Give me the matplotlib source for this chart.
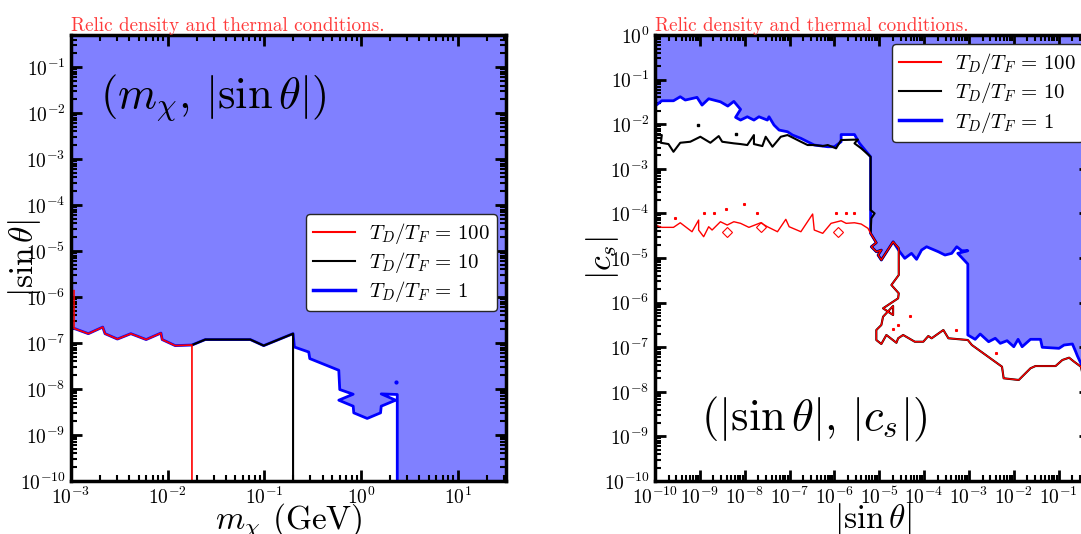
import matplotlib
matplotlib.use('Agg')
import matplotlib.pyplot as plt
import numpy as np
from matplotlib.ticker import LogLocator, NullFormatter

plt.rcParams['font.family'] = 'serif'
plt.rcParams['font.serif'] = ['cmr10']
plt.rcParams['mathtext.fontset'] = 'cm'
plt.rcParams['axes.unicode_minus'] = False
plt.rcParams['axes.formatter.use_mathtext'] = True

# ---- left panel: (m_chi, |sin theta|), values stored as log10 ----
mchi_log = [-3.0, -2.969, -2.821, -2.672, -2.648, -2.520, -2.381, -2.223, -2.070, -2.057,
            -1.922, -1.749, -1.611, -1.145, -1.007, -0.703, -0.689, -0.541, -0.530, -0.230,
            -0.220, -0.081, -0.230, -0.081, -0.075, 0.064, 0.202, 0.209, 0.358, 0.209,
            0.375, 0.375]
sin_left_log = [-6.681, -6.681, -6.796, -6.653, -6.796, -6.913, -6.796, -6.924, -6.783, -6.924,
                -7.056, -7.043, -6.924, -6.924, -7.056, -6.796, -7.087, -7.195, -7.338, -7.592,
                -8.011, -8.113, -8.243, -8.373, -8.518, -8.640, -8.518, -8.373, -8.243, -8.106,
                -8.119, -10.0]
red_left_top = -5.86       # short red segment at the left edge
red_cut_log = -1.749       # T_D/T_F = 100 ends here
black_cut_log = -0.703     # T_D/T_F = 10 ends here
blue_dot_left = (0.365, -7.852)

# ---- right panel: (|sin theta|, |c_s|), log10 ----
blue_top_x = [-10.0, -9.850, -9.590, -9.439, -9.327, -9.065, -8.953, -8.805, -8.543, -8.379,
              -8.244, -8.094, -8.206, -8.094, -7.944, -7.796, -7.684, -7.496, -7.460, -7.348,
              -7.235, -7.047, -6.935, -6.749, -6.599, -6.451, -6.150, -6.002, -5.852, -5.852,
              -5.554, -5.442, -5.195]
blue_top_y = [-1.592, -1.473, -1.473, -1.383, -1.457, -1.397, -1.570, -1.428, -1.496, -1.592,
              -1.487, -1.666, -1.845, -1.906, -1.832, -1.906, -1.832, -1.906, -1.832, -2.018,
              -2.130, -2.168, -2.242, -2.316, -2.392, -2.466, -2.504, -2.504, -2.392, -2.231,
              -2.231, -2.428, -2.729]
wiggle_x = [-5.195, -5.067, -5.179, -5.067, -4.955, -5.029, -4.955, -4.693]
wiggle_y = [-4.446, -4.657, -4.747, -4.859, -4.821, -4.933, -5.045, -4.635]
blue_rest_x = [-4.545, -4.433, -4.283, -4.170, -4.058, -3.946, -3.684, -3.536, -3.386, -3.274,
               -3.161, -3.027, -3.251, -3.027, -3.027, -2.863, -2.751, -2.563, -2.415, -2.303,
               -2.152, -2.002, -1.906, -1.816, -1.630, -1.406, -1.368, -0.993, -0.881, -0.695,
               -0.621, -0.583, -0.471, -0.247]
blue_rest_y = [-4.859, -5.007, -4.895, -5.029, -4.821, -4.747, -4.859, -4.933, -4.895, -4.747,
               -4.836, -4.836, -4.895, -5.135, -6.726, -6.823, -6.704, -6.877, -6.800, -6.913,
               -6.854, -6.989, -6.823, -6.989, -6.823, -6.823, -7.002, -7.025, -6.951, -6.928,
               -7.101, -7.197, -7.437, -7.735]
black_top_x = [-10.0, -9.850, -9.872, -9.702, -9.590, -9.439, -9.215, -8.991, -8.767, -8.581,
               -8.504, -8.244, -8.094, -7.944, -7.796, -7.796, -7.608, -7.534, -7.383, -7.197,
               -7.047, -6.899, -6.749, -6.599, -6.451, -6.262, -6.150, -5.964, -5.852, -5.478,
               -5.554, -5.404, -5.195, -5.195, -5.105, -5.179]
black_top_y = [-2.242, -2.242, -2.415, -2.444, -2.617, -2.415, -2.392, -2.280, -2.415, -2.265,
               -2.392, -2.428, -2.444, -2.466, -2.242, -2.444, -2.489, -2.280, -2.504, -2.280,
               -2.242, -2.316, -2.392, -2.466, -2.466, -2.489, -2.466, -2.540, -2.354, -2.343,
               -2.428, -2.540, -2.729, -3.924, -3.998, -4.110]
red_top_x = [-10.0, -9.850, -9.590, -9.439, -9.177, -9.029, -9.029, -8.917, -8.805, -8.729,
             -8.543, -8.392, -8.244, -8.094, -7.908, -7.646, -7.496, -7.271, -7.085, -7.011,
             -6.749, -6.487, -6.451, -6.262, -6.076, -5.852, -5.740, -5.554, -5.404, -5.253]
red_top_y = [-4.260, -4.312, -4.312, -4.209, -4.410, -4.148, -4.372, -4.522, -4.298, -4.372,
             -4.186, -4.260, -4.186, -4.222, -4.312, -4.209, -4.298, -4.410, -4.132, -4.298,
             -4.410, -4.013, -4.372, -4.446, -4.222, -4.164, -4.222, -4.209, -4.238, -4.334]
lower_x = [-4.567, -4.567, -4.731, -4.567, -4.581, -4.917, -4.693, -4.693, -4.917, -4.955,
           -5.067, -5.067, -4.955, -4.843, -4.619, -4.581, -4.469, -4.209, -4.020, -3.908,
           -3.834, -3.572, -3.460, -3.027, -2.937, -2.265, -2.228, -1.891, -1.630, -1.518,
           -1.070, -0.919, -0.769, -0.657, -0.507, -0.455, -0.247]
lower_y = [-4.780, -5.381, -5.605, -5.791, -5.904, -6.128, -6.278, -6.076, -6.316, -6.502,
           -6.614, -6.839, -6.928, -6.726, -6.901, -6.800, -6.726, -6.877, -6.877, -6.749,
           -6.800, -6.614, -6.800, -6.839, -6.951, -7.437, -7.697, -7.735, -7.473, -7.422,
           -7.422, -7.287, -7.235, -7.325, -7.437, -7.661, -7.850]
red_loop_x = [-8.392, -7.646, -5.926]
red_loop_y = [-4.410, -4.312, -4.410]
red_dot_x = [-9.567, -8.917, -8.693, -8.408, -8.020, -7.720, -5.964, -5.740, -5.554,
             -4.321, -4.581, -4.693, -3.290, -2.399]
red_dot_y = [-4.110, -3.998, -3.998, -3.908, -3.789, -3.998, -3.998, -3.998, -3.998,
             -6.300, -6.502, -6.599, -6.614, -7.137]
black_dot_x = [-9.052, -8.206]
black_dot_y = [-2.018, -2.226]

labels = [r'$T_D/T_F\,=\,100$', r'$T_D/T_F\,=\,10$', r'$T_D/T_F\,=\,1$']
fill_color = '#8080ff'


def p(v):
    return 10.0 ** np.asarray(v, dtype=float)


def style_axes(ax):
    ax.set_xscale('log')
    ax.set_yscale('log')
    for a in (ax.xaxis, ax.yaxis):
        a.set_major_locator(LogLocator(base=10, numticks=100))
        a.set_minor_locator(LogLocator(base=10, subs=np.arange(2, 10), numticks=100))
        a.set_minor_formatter(NullFormatter())
    ax.tick_params(which='both', direction='in', top=True, right=True, labelsize=14, pad=4)
    ax.tick_params(which='major', length=8, width=2)
    ax.tick_params(which='minor', length=4, width=1.5)
    for s in ax.spines.values():
        s.set_linewidth(2.5)
    ax.set_title('Relic density and thermal conditions.', loc='left', color='#ff3a3a',
                 fontsize=13.8, pad=3)


def make_legend(ax, **kw):
    h = [plt.Line2D([], [], color='red', lw=1.5), plt.Line2D([], [], color='black', lw=1.5),
         plt.Line2D([], [], color='blue', lw=2.5)]
    leg = ax.legend(h, labels, fontsize=15, framealpha=1, edgecolor='0.15',
                    handlelength=2.0, handletextpad=0.7, labelspacing=0.2, borderpad=0.35,
                    **kw)
    leg.get_frame().set_linewidth(1.0)
    return leg


fig = plt.figure(figsize=(10.81, 5.34), dpi=100)
ax1 = fig.add_axes([0.0657, 0.0993, 0.4024, 0.835])
ax2 = fig.add_axes([0.606, 0.0993, 0.4024, 0.835])

# left panel
xmin1, xmax1, ymin1, ymax1 = -3.0, 1.5, -10.0, np.log10(0.5)
ax1.fill(p(mchi_log + [xmax1, xmax1, xmin1]), p(sin_left_log + [ymin1, ymax1, ymax1]),
         color=fill_color, lw=0)
ax1.plot(p(mchi_log), p(sin_left_log), color='blue', lw=2)
ax1.plot(p(blue_dot_left[0]), p(blue_dot_left[1]), 'o', color='blue', ms=2)
nb = mchi_log.index(black_cut_log) + 1
nr = mchi_log.index(red_cut_log) + 1
ax1.plot(p(mchi_log[nr - 1:nb] + [black_cut_log]), p(sin_left_log[nr - 1:nb] + [ymin1]),
         color='black', lw=1.5)
ax1.plot(p([mchi_log[1]] + mchi_log[1:nr] + [red_cut_log]),
         p([red_left_top] + sin_left_log[1:nr] + [ymin1]), color='red', lw=1.2)
ax1.set_xlim(p(xmin1), p(xmax1))
ax1.set_ylim(p(ymin1), p(ymax1))
style_axes(ax1)
ax1.set_xlabel(r'$m_\chi$ (GeV)', fontsize=24, labelpad=-5)
ax1.set_ylabel(r'$|\sin\theta|$', fontsize=24)
ax1.yaxis.set_label_coords(-0.065, 0.5)
ax1.text(0.067, 0.86, r'$(m_\chi,\, |\sin\theta|)$', transform=ax1.transAxes,
         fontsize=32, va='center', ha='left')
make_legend(ax1, loc='center right', bbox_to_anchor=(0.98, 0.49), borderaxespad=0)

# right panel
xmin2, xmax2, ymin2, ymax2 = -10.0, np.log10(0.5), -10.0, 0.0
bx = blue_top_x + wiggle_x + blue_rest_x
by = blue_top_y + wiggle_y + blue_rest_y
ax2.fill(p(bx + [bx[-1], xmin2]), p(by + [ymax2, ymax2]), color=fill_color, lw=0)
ax2.plot(p(bx), p(by), color='blue', lw=2)
ax2.plot(p(black_top_x + wiggle_x + lower_x), p(black_top_y + wiggle_y + lower_y),
         color='black', lw=1.5)
ax2.plot(p(black_dot_x), p(black_dot_y), 's', color='black', ms=1.5)
ax2.plot(p(red_top_x + wiggle_x + lower_x), p(red_top_y + wiggle_y + lower_y),
         color='red', lw=1)
ax2.plot(p(red_loop_x), p(red_loop_y), 'D', mfc='none', mec='red', mew=0.8, ms=5)
ax2.plot(p(red_dot_x), p(red_dot_y), 's', color='red', ms=1.2)
ax2.set_xlim(p(xmin2), p(xmax2))
ax2.set_ylim(p(ymin2), p(ymax2))
style_axes(ax2)
ax2.set_xlabel(r'$|\sin\theta|$', fontsize=24, labelpad=-5)
ax2.set_ylabel(r'$|c_s|$', fontsize=24)
ax2.yaxis.set_label_coords(-0.078, 0.5)
ax2.text(0.105, 0.137, r'$(|\sin\theta|,\, |c_s|)$', transform=ax2.transAxes,
         fontsize=32, va='center', ha='left')
make_legend(ax2, loc='upper right', bbox_to_anchor=(0.985, 0.98), borderaxespad=0)

fig.savefig('out.png', dpi=100)
